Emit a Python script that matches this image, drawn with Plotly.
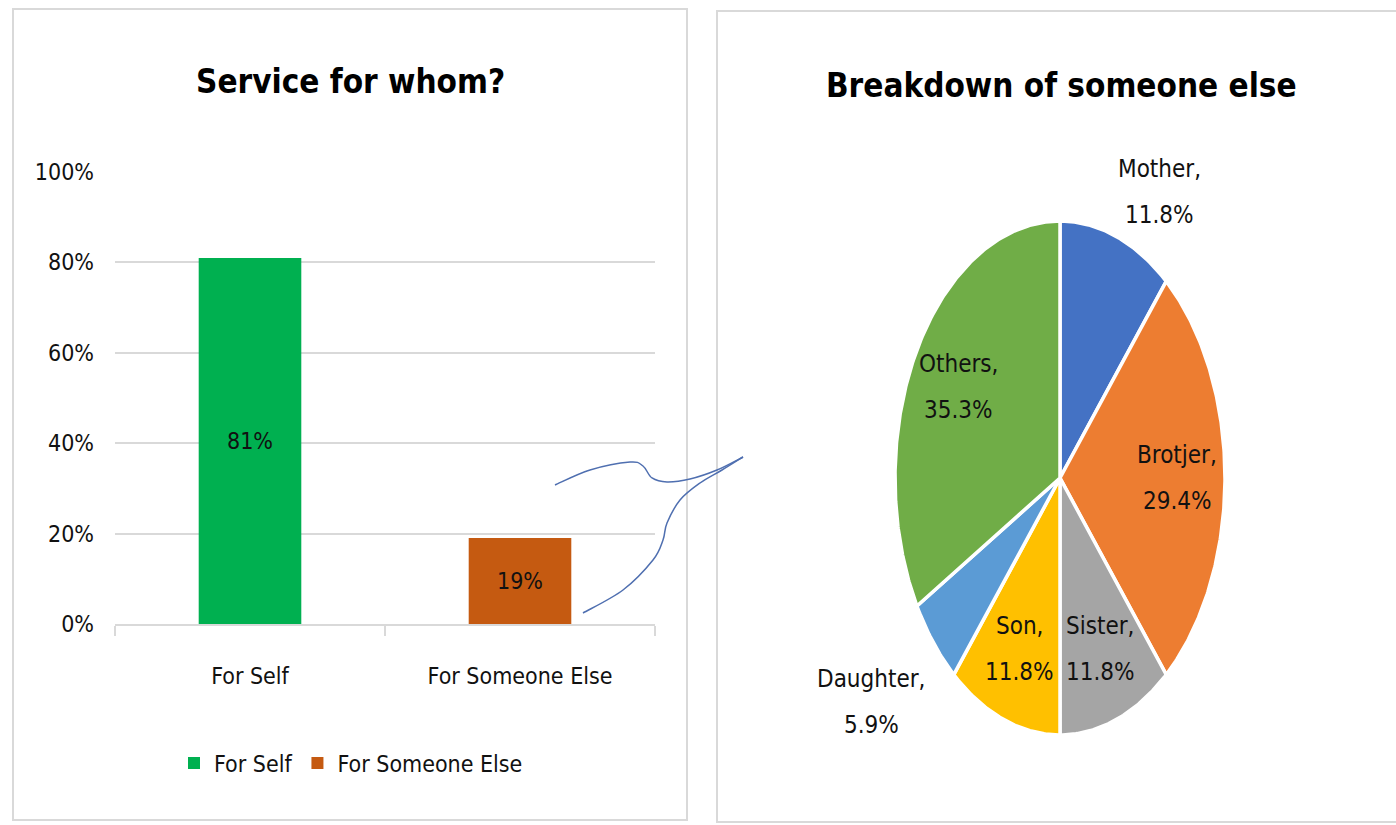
import math
import plotly.graph_objects as go

# ---------------- data ----------------
bar_categories = ["For Self", "For Someone Else"]
bar_values = [81, 19]
bar_text = ["81%", "19%"]
bar_colors = ["#00b050", "#c55a11"]

y_tick_values = [0, 20, 40, 60, 80, 100]
y_tick_text = ["0%", "20%", "40%", "60%", "80%", "100%"]

pie_labels = ["Mother", "Brotjer", "Sister", "Son", "Daughter", "Others"]
pie_values = [11.8, 29.4, 11.8, 11.8, 5.9, 35.3]
pie_colors = ["#4472c4", "#ed7d31", "#a5a5a5", "#ffc000", "#5b9bd5", "#70ad47"]

# ---------------- layout helpers ----------------
W, H = 1396, 825
FONT = "Liberation Sans Narrow, Arial Narrow, DejaVu Sans Condensed, Roboto Condensed, sans-serif"
TXT = "#111111"
GRID = "#d9d9d9"


def px(x):
    return x / W


def py(y):
    return 1 - y / H


fig = go.Figure()

# ---------------- bar chart ----------------
for cat, val, txt, col in zip(bar_categories, bar_values, bar_text, bar_colors):
    fig.add_trace(go.Bar(
        x=[cat], y=[val], name=cat, text=[txt],
        marker=dict(color=col, line=dict(width=0)),
        width=0.38,
        textposition="inside", insidetextanchor="middle", textangle=0,
        textfont=dict(family=FONT, size=23, color=TXT),
        xaxis="x", yaxis="y",
    ))

# ---------------- pie (elliptical, as in the reference) ----------------
CX, CY, RX, RY = 1060, 478, 165, 257
XR, YR = 1.2, 1.1
total = sum(pie_values)
start = 0.0
mid_angles = []
for lab, val, col in zip(pie_labels, pie_values, pie_colors):
    span = val / total * 360.0
    n = max(3, int(span * 2))
    xs, ys = [0.0], [0.0]
    for i in range(n + 1):
        t = math.radians(start + span * i / n)
        xs.append(math.sin(t))
        ys.append(math.cos(t))
    xs.append(0.0)
    ys.append(0.0)
    fig.add_trace(go.Scatter(
        x=xs, y=ys, mode="lines", fill="toself", fillcolor=col,
        line=dict(color="white", width=3.5), name=lab, showlegend=False,
        hoverinfo="text", text=f"{lab}: {val}%",
        xaxis="x2", yaxis="y2",
    ))
    mid_angles.append(start + span / 2)
    start += span

annotations = []
inside_r = 0.71
outside_shift = {"Mother": (43, 45), "Daughter": (-62, -59)}
for lab, val, ang in zip(pie_labels, pie_values, mid_angles):
    t = math.radians(ang)
    if lab in outside_shift:
        ax_, ay_ = math.sin(t), math.cos(t)
        sx, sy = outside_shift[lab]
    else:
        ax_, ay_ = inside_r * math.sin(t), inside_r * math.cos(t)
        sx, sy = 0, 0
    for line, dy in ((f"{lab},", 23), (f"{val}%", -23)):
        annotations.append(dict(
            x=ax_, y=ay_, xref="x2", yref="y2", text=line, showarrow=False,
            xshift=sx, yshift=sy + dy, xanchor="center", yanchor="middle",
            font=dict(family=FONT, size=24, color=TXT),
        ))

# titles
annotations.append(dict(x=px(350), y=py(82), xref="paper", yref="paper",
                        text="<b>Service for whom?</b>", showarrow=False,
                        xanchor="center", yanchor="middle",
                        font=dict(family=FONT, size=33, color="#000000")))
annotations.append(dict(x=px(1061), y=py(85), xref="paper", yref="paper",
                        text="<b>Breakdown of someone else</b>", showarrow=False,
                        xanchor="center", yanchor="middle",
                        font=dict(family=FONT, size=33, color="#000000")))

# ---------------- shapes: panel borders and hand-drawn connector ----------------
shapes = [
    dict(type="rect", xref="paper", yref="paper", x0=px(13), x1=px(687), y0=py(820), y1=py(9),
         line=dict(color=GRID, width=2), fillcolor="rgba(0,0,0,0)", layer="below"),
    dict(type="rect", xref="paper", yref="paper", x0=px(717), x1=px(1410), y0=py(822), y1=py(11),
         line=dict(color=GRID, width=2), fillcolor="rgba(0,0,0,0)", layer="below"),
]


def smooth_path(pts):
    p = [(px(a), py(b)) for a, b in pts]
    d = f"M {p[0][0]:.5f},{p[0][1]:.5f}"
    for i in range(len(p) - 1):
        p0 = p[i - 1] if i > 0 else p[i]
        p1, p2 = p[i], p[i + 1]
        p3 = p[i + 2] if i + 2 < len(p) else p[i + 1]
        c1 = (p1[0] + (p2[0] - p0[0]) / 6, p1[1] + (p2[1] - p0[1]) / 6)
        c2 = (p2[0] - (p3[0] - p1[0]) / 6, p2[1] - (p3[1] - p1[1]) / 6)
        d += f" C {c1[0]:.5f},{c1[1]:.5f} {c2[0]:.5f},{c2[1]:.5f} {p2[0]:.5f},{p2[1]:.5f}"
    return d


stroke_upper = [(555, 485), (590, 470), (630, 462), (643, 466), (652, 478), (667, 482),
                (690, 479), (717, 470), (743, 457)]
stroke_lower = [(583, 613), (623, 590), (653, 560), (663, 540), (667, 523), (680, 500),
                (700, 483), (722, 470), (743, 457)]
for s in (stroke_upper, stroke_lower):
    shapes.append(dict(type="path", xref="paper", yref="paper", path=smooth_path(s),
                       line=dict(color="#4f6fb0", width=1.5)))

# ---------------- layout ----------------
fig.update_layout(
    width=W, height=H,
    margin=dict(l=0, r=0, t=0, b=0, pad=0, autoexpand=False),
    paper_bgcolor="white", plot_bgcolor="white",
    barmode="overlay",
    font=dict(family=FONT, color=TXT),
    xaxis=dict(
        domain=[px(115), px(655)], type="category", range=[-0.5, 1.5],
        categoryorder="array", categoryarray=bar_categories,
        showline=True, linecolor=GRID, linewidth=2,
        ticks="outside", tickson="boundaries", ticklen=10, tickcolor=GRID, tickwidth=2,
        showgrid=False, zeroline=False, fixedrange=True,
        tickfont=dict(family=FONT, size=23, color=TXT), ticklabelstandoff=30,
    ),
    yaxis=dict(
        domain=[py(624), py(172)], range=[0, 100],
        tickvals=y_tick_values, ticktext=y_tick_text,
        showgrid=True, gridcolor=GRID, gridwidth=2,
        showline=False, zeroline=False, ticks="", fixedrange=True,
        tickfont=dict(family=FONT, size=23, color=TXT), ticklabelstandoff=20,
    ),
    xaxis2=dict(
        domain=[px(CX - XR * RX), px(CX + XR * RX)], range=[-XR, XR],
        visible=False, fixedrange=True, anchor="y2",
    ),
    yaxis2=dict(
        domain=[py(CY + YR * RY), py(CY - YR * RY)], range=[-YR, YR],
        visible=False, fixedrange=True, anchor="x2",
    ),
    legend=dict(
        orientation="h", x=px(351), y=py(763), xanchor="center", yanchor="middle",
        font=dict(family=FONT, size=23, color=TXT), bgcolor="rgba(0,0,0,0)",
        itemwidth=30, tracegroupgap=0,
    ),
    annotations=annotations,
    shapes=shapes,
    showlegend=True,
)

fig.write_html(
    "out.html",
    config={"displayModeBar": False},
    post_script="document.body.style.margin='0';document.body.style.overflow='hidden';",
)
